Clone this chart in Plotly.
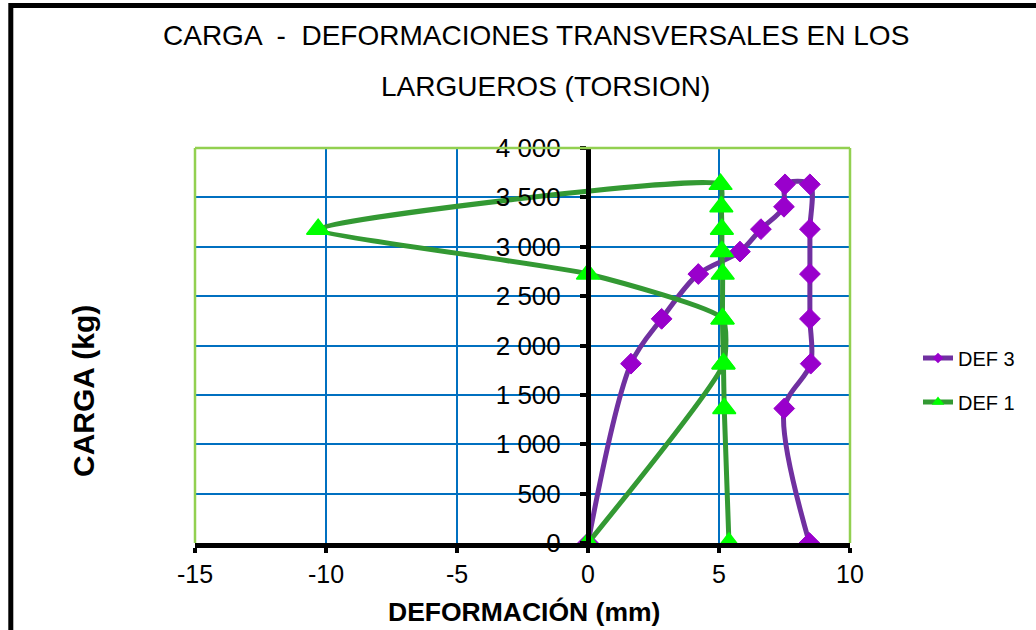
import plotly.graph_objects as go

# ---- data ----
carga_def3 = [0, 1816, 2270, 2724, 2951, 3178, 3405, 3632, 3632, 3178, 2724, 2270, 1816, 1362, 0]
def3 = [0.0, 1.64, 2.81, 4.21, 5.80, 6.60, 7.48, 7.52, 8.47, 8.47, 8.47, 8.47, 8.50, 7.49, 8.45]

carga_def1 = [0, 1816, 2270, 2724, 3178, 3632, 3405, 3178, 2951, 2724, 2270, 1816, 1362, 0]
def1 = [0.0, 5.17, 5.14, 0.0, -10.3, 5.06, 5.09, 5.11, 5.11, 5.14, 5.13, 5.17, 5.20, 5.38]

x_ticks = [-15, -10, -5, 0, 5, 10]
x_ticktext = ["-15", "-10", "-5", "0", "5", "10"]
y_ticks = [0, 500, 1000, 1500, 2000, 2500, 3000, 3500, 4000]
y_ticktext = ["0", "500", "1 000", "1 500", "2 000", "2 500", "3 000", "3 500", "4 000"]

FONT = "Liberation Sans, Arial, sans-serif"
PURPLE_LINE = "#7030A0"
PURPLE_MARK = "#9900CC"
GREEN_LINE = "#339933"
GREEN_MARK = "#00FF00"
GRID = "#0070C0"
BORDER = "#92D050"

fig = go.Figure()

fig.add_trace(go.Scatter(
    x=def3, y=carga_def3, mode="lines+markers", name="DEF 3",
    line=dict(color=PURPLE_LINE, width=5, shape="spline", smoothing=0.9),
    marker=dict(symbol="diamond", size=16, color=PURPLE_MARK,
                line=dict(color=PURPLE_MARK, width=1)),
    showlegend=False,
))
fig.add_trace(go.Scatter(
    x=def1, y=carga_def1, mode="lines+markers", name="DEF 1",
    line=dict(color=GREEN_LINE, width=5, shape="spline", smoothing=0.5),
    marker=dict(symbol="triangle-up", size=20, color=GREEN_MARK,
                line=dict(color=GREEN_MARK, width=1.5)),
    showlegend=False,
))
# legend entries
fig.add_trace(go.Scatter(
    x=[None], y=[None], mode="lines+markers", name="DEF 3",
    line=dict(color=PURPLE_LINE, width=5),
    marker=dict(symbol="diamond", size=8, color=PURPLE_MARK),
    legend="legend",
))
fig.add_trace(go.Scatter(
    x=[None], y=[None], mode="lines+markers", name="DEF 1",
    line=dict(color=GREEN_LINE, width=5),
    marker=dict(symbol="triangle-up", size=11, color=GREEN_MARK),
    legend="legend2",
))

L, R, T, B = 195, 186, 148, 87
W, H = 1036, 630
pw, ph = W - L - R, H - T - B


def px(xp):
    return (xp - L) / pw


def py(yp):
    return (H - B - yp) / ph


fig.update_layout(
    width=W, height=H,
    margin=dict(l=L, r=R, t=T, b=B, pad=0),
    paper_bgcolor="white", plot_bgcolor="white",
    font=dict(family=FONT, color="black", size=24),
    legend=dict(x=px(918), y=py(358), xanchor="left", yanchor="middle",
                font=dict(size=20, family=FONT), bgcolor="rgba(0,0,0,0)",
                itemsizing="trace"),
    legend2=dict(x=px(918), y=py(402), xanchor="left", yanchor="middle",
                 font=dict(size=20, family=FONT), bgcolor="rgba(0,0,0,0)",
                 itemsizing="trace"),
    xaxis=dict(
        range=[-15, 10], tickvals=x_ticks, ticktext=x_ticktext,
        showgrid=True, gridcolor=GRID, gridwidth=1.5,
        zeroline=False, showline=True, linecolor="black", linewidth=5,
        ticks="outside", ticklen=5, tickwidth=4, tickcolor="black",
        tickfont=dict(size=25, family=FONT), ticklabelstandoff=0,
    ),
    yaxis=dict(
        range=[0, 4000], tickvals=y_ticks, ticktext=y_ticktext,
        anchor="free", position=0.6,
        showgrid=True, gridcolor=GRID, gridwidth=1.5,
        zeroline=False, showline=True, linecolor="black", linewidth=5,
        ticks="outside", ticklen=6, tickwidth=4, tickcolor="black",
        tickfont=dict(size=26, family=FONT), ticklabelstandoff=14,
    ),
    shapes=[
        dict(type="rect", xref="paper", yref="paper", x0=px(10.8), x1=px(1060),
             y0=py(660), y1=py(5.5), line=dict(color="black", width=5), layer="below"),
        dict(type="line", xref="paper", yref="paper", x0=0, x1=0, y0=0, y1=1,
             line=dict(color=BORDER, width=2.5), layer="above"),
        dict(type="line", xref="paper", yref="paper", x0=1, x1=1, y0=0, y1=1,
             line=dict(color=BORDER, width=2.5), layer="above"),
        dict(type="line", xref="paper", yref="paper", x0=0, x1=1, y0=1, y1=1,
             line=dict(color=BORDER, width=2.5), layer="above"),
    ],
    annotations=[
        dict(text="CARGA  -  DEFORMACIONES TRANSVERSALES EN LOS", xref="paper", yref="paper",
             x=px(535.5), y=py(35.5), xanchor="center", yanchor="middle", showarrow=False,
             font=dict(size=28, family=FONT)),
        dict(text="LARGUEROS (TORSION)", xref="paper", yref="paper",
             x=px(545), y=py(86), xanchor="center", yanchor="middle", showarrow=False,
             font=dict(size=28, family=FONT)),
        dict(text="<b>CARGA (kg)</b>", xref="paper", yref="paper", textangle=-90,
             x=px(83), y=py(391), xanchor="center", yanchor="middle", showarrow=False,
             font=dict(size=30, family=FONT)),
        dict(text="<b>DEFORMACIÓN (mm)</b>", xref="paper", yref="paper",
             x=px(523.5), y=py(612), xanchor="center", yanchor="middle", showarrow=False,
             font=dict(size=26.5, family=FONT)),
    ],
)

fig.write_html("out.html")
